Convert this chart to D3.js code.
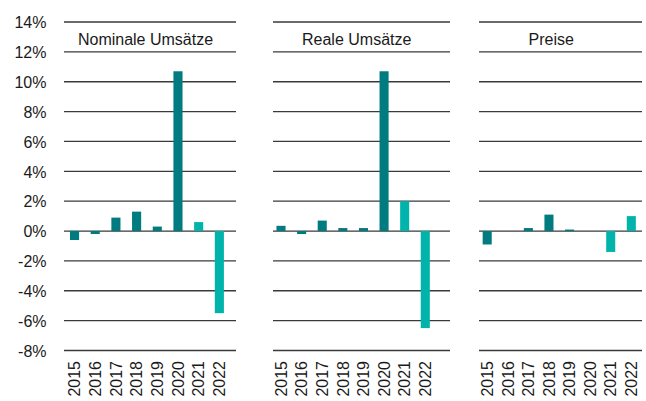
<!DOCTYPE html>
<html>
<head>
<meta charset="utf-8">
<script src="https://cdn.jsdelivr.net/npm/d3@7"></script>
<style>
  html, body { margin: 0; padding: 0; background: #fff; }
  svg { display: block; }
  text { font-family: "Liberation Sans", Arial, sans-serif; fill: #1a1a1a; }
</style>
</head>
<body>
<svg id="chart" width="646" height="401"></svg>
<script>
// Year-on-year change (%), three panels
const years = ["2015", "2016", "2017", "2018", "2019", "2020", "2021", "2022"];
const panelTitles = ["Nominale Umsätze", "Reale Umsätze", "Preise"];
const nominal = [-0.6, -0.2, 0.9, 1.3, 0.3, 10.7, 0.6, -5.5];
const real    = [0.35, -0.2, 0.7, 0.2, 0.2, 10.7, 2.0, -6.5];
const prices  = [-0.9, 0.0, 0.2, 1.1, 0.1, 0.0, -1.4, 1.0];
const yTicks  = [-8, -6, -4, -2, 0, 2, 4, 6, 8, 10, 12, 14];
const highlightYears = ["2021", "2022"];

const seriesList = [nominal, real, prices];

// Panel geometry: grid extent, band extent, title centre
const layout = [
  { grid: [64, 236],  band: [64.2, 229.7],  titleX: 145.5 },
  { grid: [273, 450], band: [270.7, 435.6], titleX: 356.7 },
  { grid: [479, 642], band: [476.9, 641.6], titleX: 551.3 }
];

const colDark = "#007b7f";
const colLight = "#00b4ac";
const gridColor = "#3a3a3a";

const svg = d3.select("#chart");

const y = d3.scaleLinear().domain([-8, 14]).range([350.5, 22]);

// Y axis labels (shared, on the left)
const yAxis = d3.axisLeft(y)
  .tickValues(yTicks)
  .tickSize(0)
  .tickPadding(0)
  .tickFormat(d => d + "%");

svg.append("g")
  .attr("transform", "translate(46.5,0)")
  .call(yAxis)
  .call(g => g.select(".domain").remove())
  .call(g => g.selectAll("text")
    .attr("font-size", 16)
    .attr("dy", "0.36em")
    .style("font-family", "'Liberation Sans', Arial, sans-serif")
    .attr("fill", "#1a1a1a"));

seriesList.forEach((values, i) => {
  const L = layout[i];
  const x = d3.scaleBand()
    .domain(years)
    .range(L.band)
    .paddingInner(0.56)
    .paddingOuter(0.28);

  const g = svg.append("g");

  // horizontal grid lines
  g.selectAll("line.grid")
    .data(yTicks)
    .join("line")
    .attr("class", "grid")
    .attr("x1", L.grid[0])
    .attr("x2", L.grid[1])
    .attr("y1", d => y(d))
    .attr("y2", d => y(d))
    .attr("stroke", gridColor)
    .attr("stroke-width", 1.3);

  // title
  g.append("text")
    .attr("x", L.titleX)
    .attr("y", 45)
    .attr("text-anchor", "middle")
    .attr("font-size", 16)
    .text(panelTitles[i]);

  // bars
  g.selectAll("rect.bar")
    .data(years.map((yr, k) => ({ yr, v: values[k] })))
    .join("rect")
    .attr("class", "bar")
    .attr("x", d => x(d.yr))
    .attr("width", x.bandwidth())
    .attr("y", d => y(Math.max(0, d.v)))
    .attr("height", d => Math.abs(y(d.v) - y(0)))
    .attr("fill", d => highlightYears.includes(d.yr) ? colLight : colDark);

  // x axis year labels, rotated
  const xAxis = d3.axisBottom(x).tickSize(0).tickPadding(0);
  g.append("g")
    .attr("transform", "translate(0,361)")
    .call(xAxis)
    .call(a => a.select(".domain").remove())
    .call(a => a.selectAll("text")
      .attr("font-size", 16)
      .style("font-family", "'Liberation Sans', Arial, sans-serif")
      .attr("fill", "#1a1a1a")
      .attr("text-anchor", "end")
      .attr("transform", "rotate(-90)")
      .attr("x", 0)
      .attr("y", 0)
      .attr("dx", 0)
      .attr("dy", "0.36em"));
});
</script>
</body>
</html>
